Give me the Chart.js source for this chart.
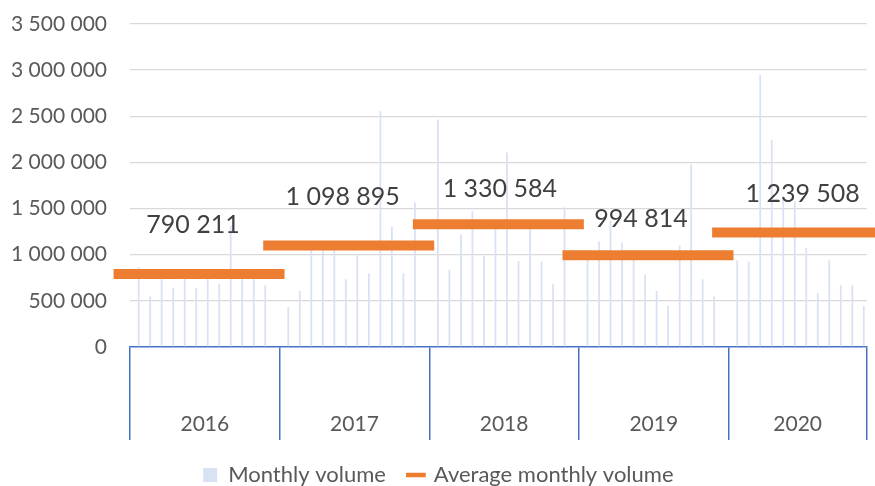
<!DOCTYPE html>
<html><head><meta charset="utf-8">
<script src="https://cdn.jsdelivr.net/npm/chart.js@4/dist/chart.umd.min.js"></script>
<style>html,body{margin:0;padding:0;background:#fff}#wrap{width:875px;height:486px}</style>
</head><body><div id="wrap"><canvas id="c" width="875" height="486"></canvas></div>
<script>
// ---- data ----
const years = ['2016', '2017', '2018', '2019', '2020'];
const monthly2016 = [866000, 549000, 780000, 639000, 800000, 639000, 790000, 686000, 1317000, 810000, 848000, 668000];
const monthly2017 = [433000, 606000, 1100000, 1110000, 1090000, 733000, 1010000, 800000, 2554000, 1306000, 800000, 1569000];
const monthly2018 = [2464000, 838000, 1220000, 1472000, 989000, 1340000, 2107000, 931000, 1350000, 924000, 686000, 1515000];
const monthly2019 = [1000000, 1144000, 1371000, 1130000, 1020000, 784000, 606000, 444000, 1100000, 1977000, 733000, 549000];
const monthly2020 = [938000, 927000, 2951000, 2245000, 1640000, 1580000, 1076000, 584000, 938000, 668000, 668000, 444000];
const averages = [790211, 1098895, 1330584, 994814, 1239508];
const yTicks = [0, 500000, 1000000, 1500000, 2000000, 2500000, 3000000, 3500000];
const seriesNames = ['Monthly volume', 'Average monthly volume'];

// ---- styles ----
const BAR = '#D9E2F3', ORANGE = '#ED7D31', BLUE = '#4472C4', TXT = '#595959';
const FONT = 'Lato';
const labelOffsets = [[-6, -41], [-6, -40.5], [1.5, -27], [-7, -28], [5, -30.5]];

const fmt = v => String(Math.round(v)).replace(/\B(?=(\d{3})+(?!\d))/g, ' ');

// ---- build slots (one empty slot between years) ----
const monthly = [monthly2016, monthly2017, monthly2018, monthly2019, monthly2020];
const labels = [], barData = [], avgPoints = [], boundaries = [], centers = [];
let slot = 0;
monthly.forEach((arr, k) => {
  const start = slot;
  boundaries.push(start - 0.5);
  arr.forEach(v => { labels.push(years[k]); barData.push(v); slot++; });
  avgPoints.push({x: start + (arr.length - 1) / 2, y: averages[k]});
  if (k < monthly.length - 1) { labels.push(''); barData.push(null); slot++; }
  centers.push((start - 0.5 + slot - 0.5) / 2);
});
boundaries.push(slot - 0.5);
const xgTicks = boundaries.concat(centers).sort((a, b) => a - b);

const avgLabelPlugin = {
  id: 'avgLabels',
  afterDatasetsDraw(chart) {
    const meta = chart.getDatasetMeta(0);
    const ctx = chart.ctx;
    ctx.save();
    ctx.font = '25px ' + FONT;
    ctx.fillStyle = '#404040';
    ctx.textAlign = 'center';
    ctx.textBaseline = 'alphabetic';
    meta.data.forEach((pt, i) => {
      const o = labelOffsets[i];
      ctx.fillText(fmt(averages[i]), pt.x + o[0], pt.y + o[1]);
    });
    ctx.restore();
  }
};

function draw() {
  new Chart(document.getElementById('c'), {
    type: 'bar',
    data: {
      labels: labels,
      datasets: [
        {
          type: 'line', label: seriesNames[1], data: avgPoints, xAxisID: 'xg', yAxisID: 'y',
          showLine: false, pointStyle: 'line', pointRadius: 85.5, pointHoverRadius: 85.5,
          pointBorderWidth: 10, pointHoverBorderWidth: 10, pointBorderColor: ORANGE, pointBackgroundColor: ORANGE,
          borderColor: ORANGE, backgroundColor: ORANGE, clip: false, order: 0
        },
        {
          type: 'bar', label: seriesNames[0], data: barData, xAxisID: 'x', yAxisID: 'y',
          backgroundColor: BAR, borderWidth: 0, barPercentage: 0.31, categoryPercentage: 1.0, order: 1
        }
      ]
    },
    options: {
      responsive: false, animation: false, devicePixelRatio: 1,
      layout: {autoPadding: false, padding: {left: 10, right: 8.3, top: 24, bottom: 0}},
      events: [],
      plugins: {
        tooltip: {enabled: false},
        legend: {
          position: 'bottom', maxHeight: 45,
          labels: {
            usePointStyle: true, boxWidth: 14, boxHeight: 14, padding: 23,
            color: TXT, font: {family: FONT, size: 22},
            generateLabels: () => [
              {text: seriesNames[0], fillStyle: BAR, strokeStyle: BAR, lineWidth: 0, pointStyle: 'rect', datasetIndex: 1, fontColor: TXT, hidden: false},
              {text: seriesNames[1], fillStyle: ORANGE, strokeStyle: ORANGE, lineWidth: 4.5, pointStyle: 'line', datasetIndex: 0, fontColor: TXT, hidden: false}
            ]
          }
        }
      },
      scales: {
        x: {type: 'category', display: false},
        xg: {
          type: 'linear', axis: 'x', position: 'bottom', offset: false,
          min: boundaries[0], max: boundaries[boundaries.length - 1],
          afterBuildTicks: s => { s.ticks = xgTicks.map(v => ({value: v})); },
          afterFit: s => { s.height = 94; },
          ticks: {
            autoSkip: false, maxRotation: 0, minRotation: 0, padding: -28.6, color: TXT,
            font: {family: FONT, size: 21},
            callback: v => { const i = centers.indexOf(v); return i >= 0 ? years[i] : ''; }
          },
          grid: {
            offset: false, drawOnChartArea: false, tickLength: 93, lineWidth: 1.5,
            color: c => (c.tick && boundaries.includes(c.tick.value)) ? BLUE : 'rgba(0,0,0,0)'
          },
          border: {display: true, color: BLUE, width: 1.5}
        },
        y: {
          min: 0, max: yTicks[yTicks.length - 1],
          afterBuildTicks: s => { s.ticks = yTicks.map(v => ({value: v})); },
          afterFit: s => { s.width = 120; },
          ticks: {callback: v => fmt(v), color: TXT, font: {family: FONT, size: 21}, padding: 0},
          grid: {
            drawTicks: true, tickLength: 23, tickColor: 'rgba(0,0,0,0)', lineWidth: 1.3,
            color: c => (c.tick && c.tick.value === 0) ? 'rgba(0,0,0,0)' : '#D9D9D9'
          },
          border: {display: false}
        }
      }
    },
    plugins: [avgLabelPlugin]
  });
}
if (document.fonts && document.fonts.load) {
  Promise.all([document.fonts.load('21px Lato'), document.fonts.load('25px Lato')]).then(draw, draw);
} else { draw(); }
</script>
</body></html>
